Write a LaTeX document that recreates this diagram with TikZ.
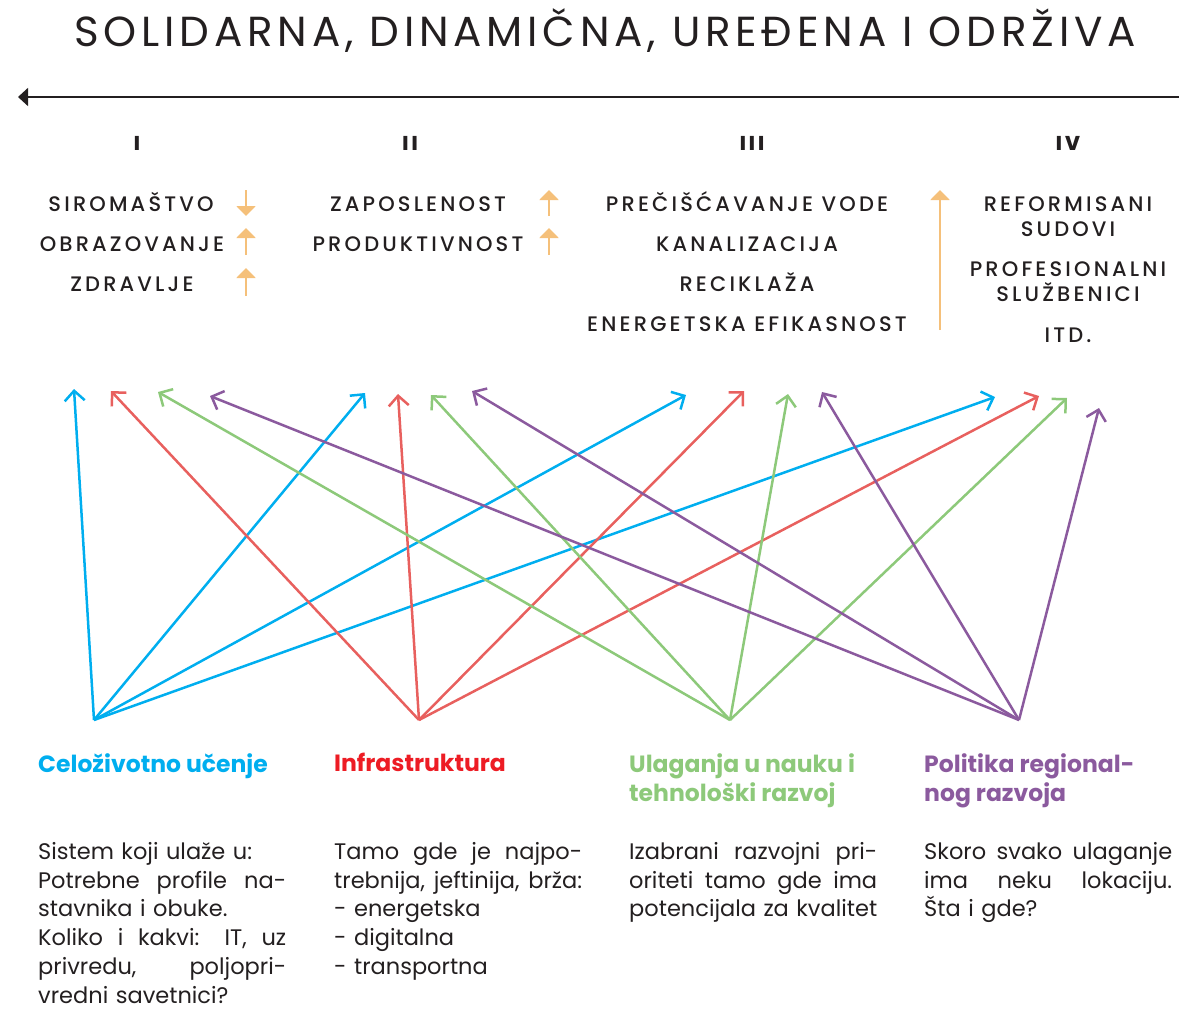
\documentclass[tikz,border=0pt]{standalone}
\usepackage{fontspec}
\setmainfont{Poppins}
\newfontfamily\capsfont[LetterSpace=15]{Poppins Medium}
\newfontfamily\titlefont[LetterSpace=11.5]{Poppins}
\usetikzlibrary{arrows.meta}
\definecolor{ink}{HTML}{231F20}
\definecolor{trend}{HTML}{F5C07A}
\definecolor{cblue}{HTML}{00AEEF}
\definecolor{cred}{HTML}{ED1C24}
\definecolor{cgreen}{HTML}{8DC97A}
\definecolor{cpurple}{HTML}{8B5A9E}
\definecolor{lred}{HTML}{E8605E}
\newcommand{\jl}[1]{{\spaceskip=0pt\xspaceskip=0pt\makebox[248pt][s]{#1}}}
\begin{document}
\begin{tikzpicture}[x=1pt,y=-1pt,
	every node/.style={inner sep=0pt,text=ink},
	goal/.style={anchor=base,font=\capsfont\fontsize{21}{25}\selectfont,align=center},
	roman/.style={anchor=base,font=\capsfont\bfseries\fontsize{20}{24}\selectfont},
	heading/.style={anchor=north west,font=\bfseries\fontsize{23.5}{29}\selectfont,align=left},
	body/.style={anchor=north west,font=\fontsize{22.5}{28.8}\selectfont,text width=248pt,align=left},
	link/.style={line width=2.5pt,-{Straight Barb[length=10pt,width=20pt]}},
	tup/.style={trend,line width=2pt,-{Triangle[length=10pt,width=19pt]}},
	tdown/.style={trend,line width=2pt,-{Triangle[length=10pt,width=19pt]}}]
	\useasboundingbox (0,0) rectangle (1179,1025);

	\node[anchor=base,font=\titlefont\fontsize{42}{48}\selectfont] at (605,47) (title) {SOLIDARNA, DINAMIČNA, UREĐENA I ODRŽIVA};
	\draw[ink,line width=1.5pt,-{Triangle[length=10pt,width=18pt]}] (1179,97) -- (18,97);

	\node[roman] at (137,150) (r1) {I};
	\node[roman] at (410,150) (r2) {II};
	\node[roman] at (752,150) (r3) {III};
	\node[roman] at (1068,150) (r4) {IV};

	\node[goal] at (131,211) (siromastvo) {SIROMAŠTVO};
	\node[goal] at (132,251) (obrazovanje) {OBRAZOVANJE};
	\node[goal] at (132,291) (zdravlje) {ZDRAVLJE};
	\draw[tdown] (246,190) -- (246,216);
	\draw[tup] (246,255) -- (246,228);
	\draw[tup] (246,296) -- (246,268);

	\node[goal] at (418,211) (zaposlenost) {ZAPOSLENOST};
	\node[goal] at (418,251) (produktivnost) {PRODUKTIVNOST};
	\draw[tup] (549,216) -- (549,190);
	\draw[tup] (549,255) -- (549,228);

	\node[goal] at (747,211) (voda) {PREČIŠĆAVANJE VODE};
	\node[goal] at (747,251) (kanalizacija) {KANALIZACIJA};
	\node[goal] at (747,291) (reciklaza) {RECIKLAŽA};
	\node[goal] at (747,331) (energija) {ENERGETSKA EFIKASNOST};
	\draw[tup] (940,330) -- (940,190);

	\node[goal] at (1068,236) (sudovi) {REFORMISANI\\SUDOVI};
	\node[goal] at (1068,301) (sluzbenici) {PROFESIONALNI\\SLUŽBENICI};
	\node[goal] at (1068,342) (itd) {ITD.};

	\coordinate (ucenje) at (94,720);
	\coordinate (infra) at (419,720);
	\coordinate (nauka) at (730,720);
	\coordinate (region) at (1019,720);

	\coordinate (b1) at (74,389);
	\coordinate (b2) at (365,393);
	\coordinate (b3) at (686,395);
	\coordinate (b4) at (995,397);
	\coordinate (r1t) at (111,391);
	\coordinate (r2t) at (398,394);
	\coordinate (r3t) at (744,391);
	\coordinate (r4t) at (1039,396);
	\coordinate (g1) at (158,392);
	\coordinate (g2) at (431,395);
	\coordinate (g3) at (788,394);
	\coordinate (g4) at (1067,398);
	\coordinate (p1) at (210,396);
	\coordinate (p2) at (472,391);
	\coordinate (p3) at (822,392);
	\coordinate (p4) at (1099,408);

	\draw[link,cblue] (ucenje)-- (b1);
	\draw[link,cblue] (ucenje)-- (b2);
	\draw[link,cblue] (ucenje)-- (b3);
	\draw[link,cblue] (ucenje)-- (b4);
	\draw[link,lred] (infra)-- (r1t);
	\draw[link,lred] (infra)-- (r2t);
	\draw[link,lred] (infra)-- (r3t);
	\draw[link,lred] (infra)-- (r4t);
	\draw[link,cgreen] (nauka)-- (g1);
	\draw[link,cgreen] (nauka)-- (g2);
	\draw[link,cgreen] (nauka)-- (g3);
	\draw[link,cgreen] (nauka)-- (g4);
	\draw[link,cpurple] (region)-- (p1);
	\draw[link,cpurple] (region)-- (p2);
	\draw[link,cpurple] (region)-- (p3);
	\draw[link,cpurple] (region)-- (p4);

	\node[heading,text=cblue] at (38,753) (h1) {Celoživotno učenje};
	\node[heading,text=cred] at (334,753) (h2) {Infrastruktura};
	\node[heading,text=cgreen] at (629,753) (h3) {Ulaganja u nauku i\\tehnološki razvoj};
	\node[heading,text=cpurple] at (924,753) (h4) {Politika regional-\\nog razvoja};

	\node[body] at (38,842) (t1) {Sistem koji ulaže u:\\\jl{Potrebne profile na-}\\stavnika i obuke.\\\jl{Koliko i kakvi: IT, uz}\\\jl{privredu, poljopri-}\\vredni savetnici?};
	\node[body] at (334,842) (t2) {\jl{Tamo gde je najpo-}\\\jl{trebnija, jeftinija, brža:}\\- energetska\\- digitalna\\- transportna};
	\node[body] at (629,842) (t3) {\jl{Izabrani razvojni pri-}\\\jl{oriteti tamo gde ima}\\\jl{potencijala za kvalitet}};
	\node[body] at (924,842) (t4) {\jl{Skoro svako ulaganje}\\\jl{ima neku lokaciju.}\\Šta i gde?};
\end{tikzpicture}
\end{document}
